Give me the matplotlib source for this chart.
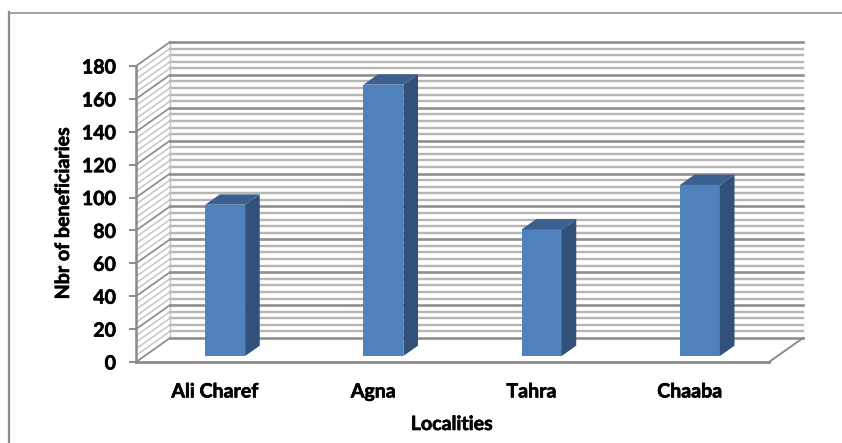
import matplotlib
matplotlib.use("Agg")
import matplotlib.pyplot as plt
import matplotlib.patheffects as pe
from matplotlib.lines import Line2D
from matplotlib.patches import Polygon

localities = ["Ali Charef", "Agna", "Tahra", "Chaaba"]
beneficiaries = [92, 165, 77, 104]
y_ticks = [0, 20, 40, 60, 80, 100, 120, 140, 160, 180]
minor_step = 4

W, H = 842, 443
FS = 14.1
plt.rcParams["font.family"] = ["Lato", "DejaVu Sans"]
fig = plt.figure(figsize=(W / 100, H / 100), dpi=100)
fig.patch.set_facecolor("white")

# Slight outline thickens the bold labels
HEAVY = [pe.withStroke(linewidth=0.45, foreground="black")]

# Chart frame: only its top and left edges fall inside the canvas
fig.add_artist(Line2D([9 / W, 1], [1 - 12.5 / H, 1 - 12.5 / H], transform=fig.transFigure,
                      color="#8c8c8c", lw=1.1))
fig.add_artist(Line2D([9 / W, 9 / W], [1 - 12 / H, 0], transform=fig.transFigure,
                      color="#8c8c8c", lw=1.6))

# Front plane of the 3D box
x0, x1, y0, y1 = 136, 769, 362, 66
ax = fig.add_axes([x0 / W, 1 - y0 / H, (x1 - x0) / W, (y0 - y1) / H])
ax.set_xlim(-0.5, len(localities) - 0.5)
ax.set_ylim(0, 180)
ax.axis("off")

px_x = (x1 - x0) / len(localities)
px_y = (y0 - y1) / 180

# Oblique depth vector, expressed in data units
DX = 34 / px_x
DY = 24 / px_y


def proj(x, v, d=0.0):
    return (x + DX * d, v + DY * d)


# Wall gridlines: minor first so the major ones stay on top
for v in range(0, 181, minor_step):
    if v % 20 == 0:
        continue
    ax.plot(*zip(proj(-0.5, v), proj(-0.5, v, 1)), color="#c6c6c6", lw=1.1, clip_on=False, zorder=2)
    ax.plot(*zip(proj(-0.5, v, 1), proj(3.5, v, 1)), color="#b6b6b6", lw=1.7, clip_on=False, zorder=2)
for v in y_ticks:
    ax.plot(*zip(proj(-0.5, v), proj(-0.5, v, 1)), color="#8f8f8f", lw=1.3, clip_on=False, zorder=3)
    ax.plot(*zip(proj(-0.5, v, 1), proj(3.5, v, 1)), color="#8f8f8f", lw=1.9, clip_on=False, zorder=3)

# Axis lines, tick marks and floor edges
AX_C = "#8a8a8a"
ax.plot([-0.5, -0.5], [0, 180], color=AX_C, lw=1.8, clip_on=False, zorder=4)
ax.plot([-0.5, 3.5], [0, 0], color=AX_C, lw=2.0, clip_on=False, zorder=4)
ax.plot(*zip(proj(3.5, 0), proj(3.5, 0, 1)), color=AX_C, lw=1.4, clip_on=False, zorder=4)
ax.plot(*zip(proj(-0.5, 180, 1), proj(-0.5, 0, 1)), color="#c4c4c4", lw=1.0, clip_on=False, zorder=2)
for v in y_ticks:
    ax.plot([-0.5 - 6 / px_x, -0.5], [v, v], color=AX_C, lw=1.4, clip_on=False, zorder=4)
    ax.text(-0.5 - 20 / px_x, v - 1.5 / px_y, str(v), ha="right", va="center",
            fontsize=FS, fontweight="bold", color="black", path_effects=HEAVY)

# Bars as three-faced prisms standing inside the box
half = 20 / px_x
shift = 1.5 / px_x
d_front, d_back = 0.25, 0.68
for i, val in enumerate(beneficiaries):
    a, b = i - half + shift, i + half + shift
    ax.add_patch(Polygon([proj(a, 0, d_front), proj(b, 0, d_front), proj(b, val, d_front), proj(a, val, d_front)],
                         facecolor="#4f81bd", edgecolor="none", zorder=6))
    ax.add_patch(Polygon([proj(b, 0, d_front), proj(b, 0, d_back), proj(b, val, d_back), proj(b, val, d_front)],
                         facecolor="#31517a", edgecolor="none", zorder=6))
    ax.add_patch(Polygon([proj(a, val, d_front), proj(b, val, d_front), proj(b, val, d_back), proj(a, val, d_back)],
                         facecolor="#3b6090", edgecolor="none", zorder=6))
    ax.text(i, -17.9, localities[i], ha="center", va="center", fontsize=FS,
            fontweight="bold", color="black", path_effects=HEAVY)

fig.text(452 / W, 1 - 424 / H, "Localities", ha="center", va="center",
         fontsize=FS, fontweight="bold", path_effects=HEAVY)
fig.text(63 / W, 1 - 213 / H, "Nbr of beneficiaries", ha="center", va="center",
         rotation=90, fontsize=FS, fontweight="bold", path_effects=HEAVY)

fig.savefig("out.png", dpi=100)
